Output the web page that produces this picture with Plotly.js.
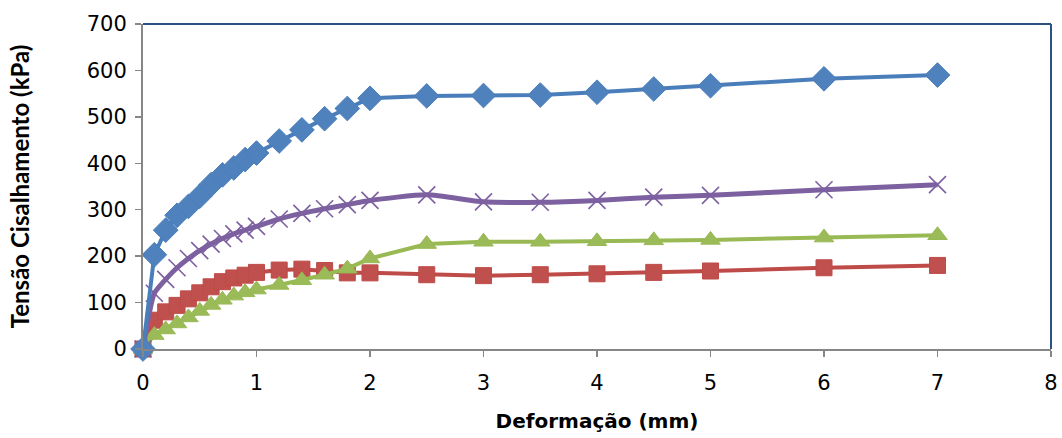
<!DOCTYPE html>
<html>
<head>
<meta charset="utf-8">
<script src="https://cdn.plot.ly/plotly-3.0.1.min.js"></script>
<style>
  html, body { margin: 0; padding: 0; background: #ffffff; }
  #chart { width: 1062px; height: 438px; }
</style>
</head>
<body>
<div id="chart"></div>
<script>
// Deformação horizontal (mm)
const deformacao = [0, 0.1, 0.2, 0.3, 0.4, 0.5, 0.6, 0.7, 0.8, 0.9, 1.0,
                    1.2, 1.4, 1.6, 1.8, 2.0, 2.5, 3, 3.5, 4, 4.5, 5, 6, 7];

// Tensão de cisalhamento (kPa) por ensaio
const serieAzul   = [0, 203, 256, 288, 307, 329, 354, 375, 390, 408, 422,
                     448, 472, 496, 518, 540, 545, 546, 547, 553, 560, 567, 582, 590];
const serieRoxa   = [0, 120, 150, 175, 195, 212, 226, 238, 248, 256, 264,
                     280, 292, 302, 311, 320, 332, 317, 316, 320, 327, 331, 343, 354];
const serieVerde  = [0, 30, 42, 55, 68, 82, 95, 106, 115, 122, 128,
                     138, 148, 160, 173, 195, 226, 231, 231, 232, 234, 235, 240, 245];
const serieVerm   = [0, 62, 80, 94, 108, 121, 134, 145, 153, 159, 165,
                     170, 172, 169, 164, 164, 160, 158, 160, 162, 165, 168, 175, 180];

const xTicks = [0, 1, 2, 3, 4, 5, 6, 7, 8];
const yTicks = [0, 100, 200, 300, 400, 500, 600, 700];

const fonteLarga = '"DejaVu Sans", sans-serif';
const fonteTitulo = 'Lato, "Open Sans", sans-serif';

const traces = [
  {
    x: deformacao, y: serieVerm, type: 'scatter', mode: 'lines+markers', cliponaxis: false,
    line: { color: '#BE4B48', width: 4 },
    marker: { symbol: 'square', size: 16, color: '#C0504D', line: { color: '#BE4B48', width: 1 } }
  },
  {
    x: deformacao, y: serieVerde, type: 'scatter', mode: 'lines+markers', cliponaxis: false,
    line: { color: '#98B954', width: 4 },
    marker: { symbol: 'triangle-up', size: 17, color: '#9BBB59', line: { color: '#98B954', width: 1 } }
  },
  {
    x: deformacao, y: serieRoxa, type: 'scatter', mode: 'lines+markers', cliponaxis: false,
    line: { color: '#7D60A0', width: 5, shape: 'spline', smoothing: 0.6 },
    marker: { symbol: 'x-thin-open', size: 17, color: '#7D60A0', line: { color: '#7D60A0', width: 1.6 } }
  },
  {
    x: deformacao, y: serieAzul, type: 'scatter', mode: 'lines+markers', cliponaxis: false,
    line: { color: '#4A7EBB', width: 4 },
    marker: { symbol: 'diamond', size: 19, color: '#4F81BD', line: { color: '#4A7EBB', width: 1 } }
  }
];

const layout = {
  width: 1062, height: 438,
  margin: { l: 143, r: 11, t: 24, b: 89 },
  paper_bgcolor: '#ffffff', plot_bgcolor: '#ffffff',
  showlegend: false,
  font: { family: fonteLarga, color: '#000000', size: 21 },
  xaxis: {
    range: [0, 8], tickvals: xTicks, ticktext: xTicks.map(String),
    showgrid: false, zeroline: false,
    showline: true, linecolor: '#868686', linewidth: 2,
    ticks: 'outside', ticklen: 6, tickwidth: 1.5, tickcolor: '#868686',
    ticklabelstandoff: 8,
    tickfont: { family: fonteLarga, size: 21, color: '#000000' },
    title: { text: '<b>Deformação (mm)</b>', font: { family: fonteLarga, size: 20, color: '#000000' }, standoff: 20 },
    fixedrange: true
  },
  yaxis: {
    range: [0, 700], tickvals: yTicks, ticktext: yTicks.map(String),
    showgrid: false, zeroline: false,
    showline: true, linecolor: '#868686', linewidth: 2,
    ticks: 'outside', ticklen: 6, tickwidth: 1.5, tickcolor: '#868686',
    ticklabelstandoff: 4,
    tickfont: { family: fonteLarga, size: 21, color: '#000000' },
    title: { text: '<b>Tensão Cisalhamento (kPa)</b>', font: { family: fonteTitulo, size: 24, color: '#000000' }, standoff: 50 },
    fixedrange: true
  },
  shapes: [
    { type: 'line', xref: 'paper', yref: 'paper', x0: 0, x1: 1, y0: 1, y1: 1,
      line: { color: '#2C5282', width: 2 } },
    { type: 'line', xref: 'paper', yref: 'paper', x0: 1, x1: 1, y0: 0, y1: 1,
      line: { color: '#2C5282', width: 2 } }
  ]
};

Plotly.newPlot('chart', traces, layout, { staticPlot: true, displayModeBar: false });
</script>
</body>
</html>
